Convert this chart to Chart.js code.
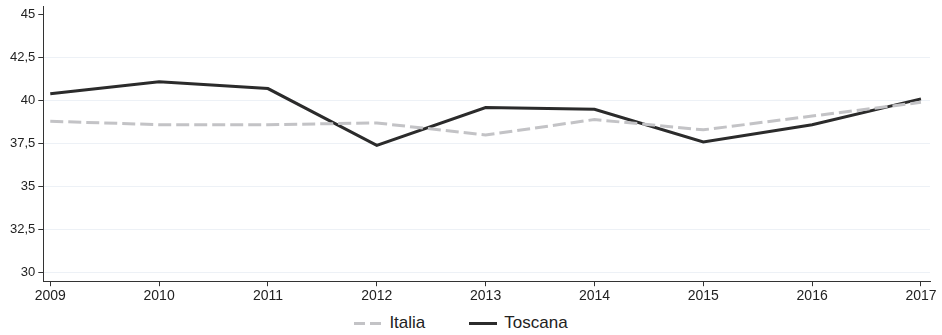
<!DOCTYPE html>
<html>
<head>
<meta charset="utf-8">
<script src="https://cdn.jsdelivr.net/npm/chart.js@4/dist/chart.umd.min.js"></script>
<style>
  html, body { margin: 0; padding: 0; background: #fff; overflow: hidden; }
  #wrap { width: 942px; height: 335px; font-family: "Liberation Sans", Arial, sans-serif; }
  #box { position: relative; width: 942px; height: 307px; }
  #legend { height: 28px; box-sizing: border-box; padding-top: 4px; display: flex; justify-content: center; align-items: center; font-size: 17px; color: #222; padding-right: 20px; }
  .item { display: flex; align-items: center; margin: 0 22px; }
  .sw { width: 28px; height: 3px; margin-right: 7px; }
  .dash { background: repeating-linear-gradient(to right, #c3c3c6 0 11px, transparent 11px 16px); }
  .solid { background: #2b2b2b; }
</style>
</head>
<body>
<div id="wrap">
  <div id="box"><canvas id="chart"></canvas></div>
  <div id="legend"></div>
</div>
<script>
// data
const years = [2009, 2010, 2011, 2012, 2013, 2014, 2015, 2016, 2017]
const italia = [38.8, 38.6, 38.6, 38.7, 38.0, 38.9, 38.3, 39.1, 39.9]
const toscana = [40.4, 41.1, 40.7, 37.4, 39.6, 39.5, 37.6, 38.6, 40.1]
const yTicks = [30, 32.5, 35, 37.5, 40, 42.5, 45]

Chart.defaults.font.family = '"Liberation Sans", Arial, sans-serif'
Chart.defaults.color = '#333'

const toPoints = arr => arr.map((v, i) => ({x: years[i], y: v}))

const chart = new Chart(document.getElementById('chart'), {
  type: 'line',
  data: {
    datasets: [
      {
        label: 'Italia',
        data: toPoints(italia),
        borderColor: '#c3c3c6',
        borderWidth: 3,
        borderDash: [13, 5],
        pointRadius: 0,
        tension: 0
      },
      {
        label: 'Toscana',
        data: toPoints(toscana),
        borderColor: '#2b2b2b',
        borderWidth: 3,
        pointRadius: 0,
        tension: 0
      }
    ]
  },
  options: {
    responsive: true,
    maintainAspectRatio: false,
    animation: false,
    layout: { padding: { left: 7, right: 12, top: 6, bottom: 0 } },
    scales: {
      x: {
        type: 'linear',
        min: 2008.936,
        max: 2017.083,
        afterBuildTicks: axis => { axis.ticks = years.map(v => ({value: v})) },
        grid: { drawOnChartArea: false, drawTicks: true, tickLength: 5, tickColor: '#333' },
        border: { color: '#333', width: 1 },
        ticks: { font: { size: 14 }, color: '#222', padding: 2, maxRotation: 0, callback: v => String(v) }
      },
      y: {
        min: 29.5,
        max: 45.5,
        afterBuildTicks: axis => { axis.ticks = yTicks.map(v => ({value: v})) },
        afterFit: axis => { axis.paddingTop = 0 },
        grid: {
          color: ctx => (ctx.tick && ctx.tick.value === 45) ? 'rgba(0,0,0,0)' : '#edf1f6',
          lineWidth: 1, drawTicks: true, tickLength: 5, tickColor: '#333'
        },
        border: { color: '#333', width: 1 },
        ticks: { font: { size: 13 }, color: '#222', padding: 3, callback: v => String(v).replace('.', ',') }
      }
    },
    plugins: {
      legend: { display: false },
      tooltip: { enabled: false }
    }
  }
})

// legend below the chart
const legend = document.getElementById('legend')
chart.data.datasets.forEach(ds => {
  const item = document.createElement('div')
  item.className = 'item'
  const sw = document.createElement('span')
  sw.className = 'sw ' + (ds.borderDash ? 'dash' : 'solid')
  const txt = document.createElement('span')
  txt.textContent = ds.label
  item.appendChild(sw)
  item.appendChild(txt)
  legend.appendChild(item)
})
</script>
</body>
</html>
